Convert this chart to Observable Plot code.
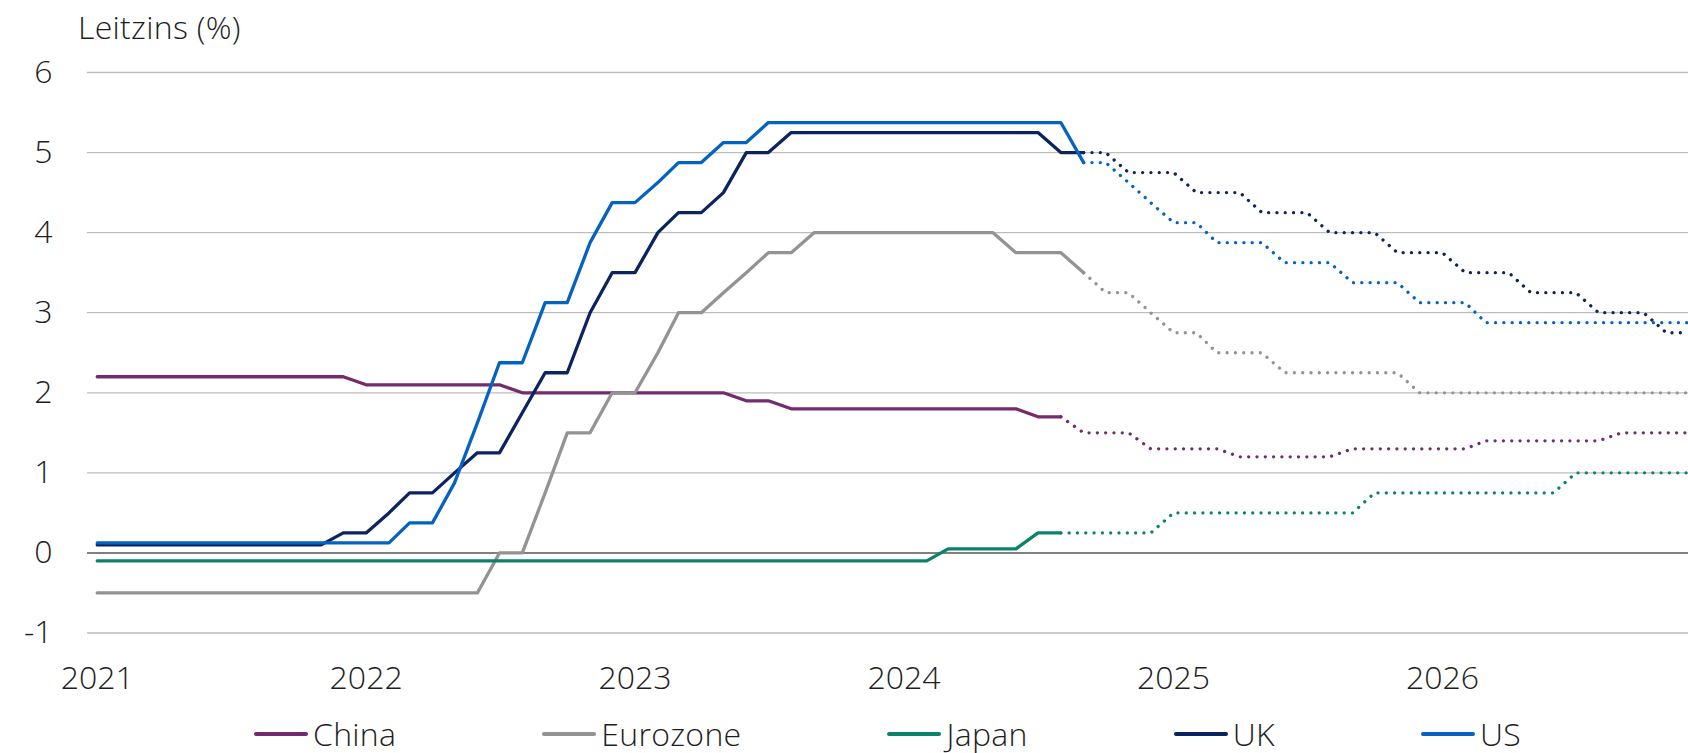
<!DOCTYPE html>
<html>
<head>
<meta charset="utf-8">
<script src="https://cdn.jsdelivr.net/npm/d3@7"></script>
<script src="https://cdn.jsdelivr.net/npm/@observablehq/plot@0.6"></script>
<style>
  html, body { margin: 0; padding: 0; background: #ffffff; overflow: hidden; }
  body { width: 1688px; height: 753px; font-family: "Open Sans", Lato, sans-serif; color: #1e1e1e; }
  #title { height: 50px; box-sizing: border-box; padding-top: 7px; padding-left: 78px; font-size: 32px; line-height: 40px; font-weight: 300; letter-spacing: 0.3px; }
  #chart svg { display: block; }
  #legend { margin-top: 15px; margin-left: 87px; width: 1601px; height: 38px; display: flex; justify-content: center; align-items: center; column-gap: 146px; font-size: 32px; line-height: 40px; font-weight: 300; letter-spacing: 0.3px; }
  .item { display: flex; align-items: center; white-space: nowrap; }
  .sw { display: inline-block; width: 54px; height: 3.5px; border-radius: 2px; margin-right: 5px; }
</style>
</head>
<body>
<div id="title">Leitzins (%)</div>
<div id="chart"></div>
<div id="legend"></div>
<script>
// Series names and colours
const seriesNames = ["China", "Eurozone", "Japan", "UK", "US"];
const seriesColors = ["#732a6e", "#939393", "#0b826a", "#0b2360", "#0562c1"];

// Monthly observations, Jan 2021 .. Dec 2026 (72 months)
const startMonth = "2021-01-01";
const endMonth = "2027-01-01";

const china = [
  2.2, 2.2, 2.2, 2.2, 2.2, 2.2, 2.2, 2.2, 2.2, 2.2, 2.2, 2.2,
  2.1, 2.1, 2.1, 2.1, 2.1, 2.1, 2.1, 2.0, 2.0, 2.0, 2.0, 2.0,
  2.0, 2.0, 2.0, 2.0, 2.0, 1.9, 1.9, 1.8, 1.8, 1.8, 1.8, 1.8,
  1.8, 1.8, 1.8, 1.8, 1.8, 1.8, 1.7, 1.7, 1.5, 1.5, 1.5, 1.3,
  1.3, 1.3, 1.3, 1.2, 1.2, 1.2, 1.2, 1.2, 1.3, 1.3, 1.3, 1.3,
  1.3, 1.3, 1.4, 1.4, 1.4, 1.4, 1.4, 1.4, 1.5, 1.5, 1.5, 1.5
];
const eurozone = [
  -0.5, -0.5, -0.5, -0.5, -0.5, -0.5, -0.5, -0.5, -0.5, -0.5, -0.5, -0.5,
  -0.5, -0.5, -0.5, -0.5, -0.5, -0.5, 0, 0, 0.75, 1.5, 1.5, 2.0,
  2.0, 2.5, 3.0, 3.0, 3.25, 3.5, 3.75, 3.75, 4.0, 4.0, 4.0, 4.0,
  4.0, 4.0, 4.0, 4.0, 4.0, 3.75, 3.75, 3.75, 3.5, 3.25, 3.25, 3.0,
  2.75, 2.75, 2.5, 2.5, 2.5, 2.25, 2.25, 2.25, 2.25, 2.25, 2.25, 2.0,
  2.0, 2.0, 2.0, 2.0, 2.0, 2.0, 2.0, 2.0, 2.0, 2.0, 2.0, 2.0
];
const japan = [
  -0.1, -0.1, -0.1, -0.1, -0.1, -0.1, -0.1, -0.1, -0.1, -0.1, -0.1, -0.1,
  -0.1, -0.1, -0.1, -0.1, -0.1, -0.1, -0.1, -0.1, -0.1, -0.1, -0.1, -0.1,
  -0.1, -0.1, -0.1, -0.1, -0.1, -0.1, -0.1, -0.1, -0.1, -0.1, -0.1, -0.1,
  -0.1, -0.1, 0.05, 0.05, 0.05, 0.05, 0.25, 0.25, 0.25, 0.25, 0.25, 0.25,
  0.5, 0.5, 0.5, 0.5, 0.5, 0.5, 0.5, 0.5, 0.5, 0.75, 0.75, 0.75,
  0.75, 0.75, 0.75, 0.75, 0.75, 0.75, 1.0, 1.0, 1.0, 1.0, 1.0, 1.0
];
const uk = [
  0.1, 0.1, 0.1, 0.1, 0.1, 0.1, 0.1, 0.1, 0.1, 0.1, 0.1, 0.25,
  0.25, 0.5, 0.75, 0.75, 1.0, 1.25, 1.25, 1.75, 2.25, 2.25, 3.0, 3.5,
  3.5, 4.0, 4.25, 4.25, 4.5, 5.0, 5.0, 5.25, 5.25, 5.25, 5.25, 5.25,
  5.25, 5.25, 5.25, 5.25, 5.25, 5.25, 5.25, 5.0, 5.0, 5.0, 4.75, 4.75,
  4.75, 4.5, 4.5, 4.5, 4.25, 4.25, 4.25, 4.0, 4.0, 4.0, 3.75, 3.75,
  3.75, 3.5, 3.5, 3.5, 3.25, 3.25, 3.25, 3.0, 3.0, 3.0, 2.75, 2.75
];
const us = [
  0.125, 0.125, 0.125, 0.125, 0.125, 0.125, 0.125, 0.125, 0.125, 0.125, 0.125, 0.125,
  0.125, 0.125, 0.375, 0.375, 0.875, 1.625, 2.375, 2.375, 3.125, 3.125, 3.875, 4.375,
  4.375, 4.625, 4.875, 4.875, 5.125, 5.125, 5.375, 5.375, 5.375, 5.375, 5.375, 5.375,
  5.375, 5.375, 5.375, 5.375, 5.375, 5.375, 5.375, 5.375, 4.875, 4.875, 4.625, 4.375,
  4.125, 4.125, 3.875, 3.875, 3.875, 3.625, 3.625, 3.625, 3.375, 3.375, 3.375, 3.125,
  3.125, 3.125, 2.875, 2.875, 2.875, 2.875, 2.875, 2.875, 2.875, 2.875, 2.875, 2.875
];
// First month of the dotted (forecast) part of each series
const forecastFrom = ["2024-08-01", "2024-09-01", "2024-08-01", "2024-09-01", "2024-09-01"];

// Axis ticks
const yTicks = [-1, 0, 1, 2, 3, 4, 5, 6];
const yearTicks = ["2021-01-01", "2022-01-01", "2023-01-01", "2024-01-01", "2025-01-01", "2026-01-01"];

// ---- build table ----
const months = d3.utcMonth.range(new Date(startMonth), new Date(endMonth));
const seriesValues = [china, eurozone, japan, uk, us];
const rows = [];
seriesNames.forEach((name, s) => {
  const fc = new Date(forecastFrom[s]);
  seriesValues[s].forEach((v, i) => {
    rows.push({date: months[i], value: v, series: name, solid: months[i] <= fc, dotted: months[i] >= fc});
  });
});
const solidRows = rows.filter(d => d.solid);
const dottedRows = rows.filter(d => d.dotted);

const xStart = new Date(Date.UTC(2020, 11, 18, 19));
const xEnd = months[months.length - 1];
const yearDates = yearTicks.map(d => new Date(d));

const chart = Plot.plot({
  width: 1688,
  height: 650,
  marginTop: 22,
  marginBottom: 67.5,
  marginLeft: 87,
  marginRight: 0,
  style: {fontFamily: "'Open Sans', Lato, sans-serif", fontSize: "32px", color: "#1e1e1e", background: "#ffffff", fontWeight: 300},
  x: {type: "utc", domain: [xStart, xEnd], label: null},
  y: {domain: [-1, 6], label: null},
  color: {domain: seriesNames, range: seriesColors},
  marks: [
    Plot.ruleY(yTicks.filter(d => d !== 0), {stroke: "#bdbdbd", strokeWidth: 1.3}),
    Plot.ruleY([0], {stroke: "#808080", strokeWidth: 2}),
    Plot.axisX({ticks: yearDates, tickSize: 0, tickPadding: 33, tickFormat: d3.utcFormat("%Y"), fontSize: 32, label: null}),
    Plot.axisY({ticks: yTicks, tickSize: 0, tickPadding: 35, tickFormat: d => String(d), fontSize: 32, label: null}),
    Plot.line(solidRows, {x: "date", y: "value", z: "series", stroke: "series", strokeWidth: 3.3, strokeLinejoin: "round", curve: "linear"}),
    Plot.line(dottedRows, {x: "date", y: "value", z: "series", stroke: "series", strokeWidth: 3.3, strokeDasharray: "0.01 8.3", strokeLinecap: "round", curve: "linear"})
  ]
});
document.getElementById("chart").appendChild(chart);

// ---- legend ----
const legend = document.getElementById("legend");
seriesNames.forEach((name, i) => {
  const item = document.createElement("div");
  item.className = "item";
  const sw = document.createElement("span");
  sw.className = "sw";
  sw.style.background = seriesColors[i];
  const label = document.createElement("span");
  label.textContent = name;
  item.appendChild(sw);
  item.appendChild(label);
  legend.appendChild(item);
});
</script>
</body>
</html>
